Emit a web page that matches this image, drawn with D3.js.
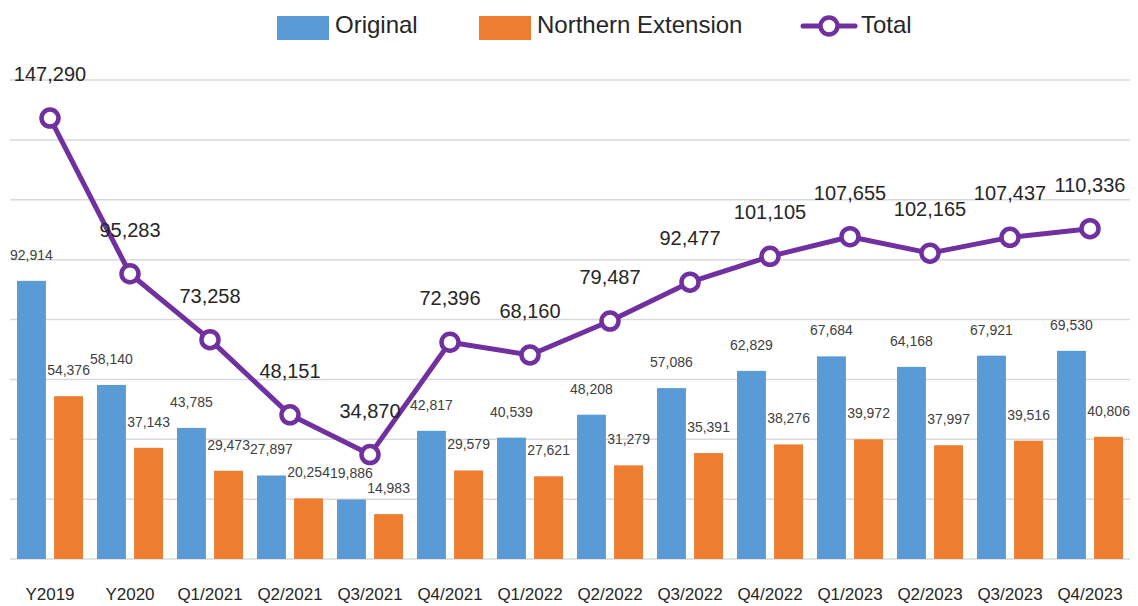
<!DOCTYPE html>
<html>
<head>
<meta charset="utf-8">
<script src="https://cdn.jsdelivr.net/npm/d3@7"></script>
<style>
  html, body { margin: 0; padding: 0; background: #fff; }
  svg { display: block; font-family: "Liberation Sans", Arial, sans-serif; }
</style>
</head>
<body>
<svg id="chart" width="1138" height="606"></svg>
<script>
const categories = ["Y2019","Y2020","Q1/2021","Q2/2021","Q3/2021","Q4/2021","Q1/2022","Q2/2022","Q3/2022","Q4/2022","Q1/2023","Q2/2023","Q3/2023","Q4/2023"];
const original = [92914,58140,43785,27897,19886,42817,40539,48208,57086,62829,67684,64168,67921,69530];
const northern = [54376,37143,29473,20254,14983,29579,27621,31279,35391,38276,39972,37997,39516,40806];
const total = [147290,95283,73258,48151,34870,72396,68160,79487,92477,101105,107655,102165,107437,110336];
const seriesNames = ["Original","Northern Extension","Total"];
const yTicks = [0,20000,40000,60000,80000,100000,120000,140000,160000];

const colors = {Original:"#5B9BD5", "Northern Extension":"#ED7D31", Total:"#7030A0"};
const svg = d3.select("#chart");
const fmt = d3.format(",");

const x0 = d3.scaleBand().domain(categories).range([10,1130]).padding(0);
const x1 = d3.scaleBand().domain(["Original","Northern Extension"]).range([7,73]).paddingInner(0.22);
const y = d3.scaleLinear().domain([0,160000]).range([559,80]);

// gridlines
svg.append("g").selectAll("line").data(yTicks).join("line")
  .attr("x1",10).attr("x2",1130)
  .attr("y1",d=>y(d)).attr("y2",d=>y(d))
  .attr("stroke","#D9D9D9").attr("stroke-width",1.5);

// x axis labels
const xAxis = d3.axisBottom(x0).tickSize(0).tickPadding(0);
const gx = svg.append("g").attr("transform","translate(0,588)").call(xAxis);
gx.select(".domain").remove();
gx.selectAll("text").attr("font-size",17).attr("fill","#262626")
  .attr("font-family","'Liberation Sans', Arial, sans-serif").attr("dy","0.71em");

// bars
const rows = categories.map((c,i)=>({cat:c, vals:[{k:"Original",v:original[i]},{k:"Northern Extension",v:northern[i]}]}));
const grp = svg.append("g").selectAll("g").data(rows).join("g")
  .attr("transform",d=>`translate(${x0(d.cat)},0)`);
grp.selectAll("rect").data(d=>d.vals).join("rect")
  .attr("x",d=>x1(d.k)).attr("width",x1.bandwidth())
  .attr("y",d=>y(d.v)).attr("height",d=>y(0)-y(d.v))
  .attr("fill",d=>colors[d.k]);
grp.selectAll("text").data(d=>d.vals).join("text")
  .attr("x",d=>x1(d.k)+x1.bandwidth()/2)
  .attr("y",d=>y(d.v)-26)
  .attr("dy","0.35em")
  .attr("text-anchor","middle")
  .attr("font-size",14).attr("fill","#404040")
  .text(d=>fmt(d.v));

// total line
const pts = categories.map((c,i)=>({cat:c, v:total[i]}));
const cx = d=>x0(d.cat)+x0.bandwidth()/2;
svg.append("path").datum(pts)
  .attr("d", d3.line().x(cx).y(d=>y(d.v)))
  .attr("fill","none").attr("stroke",colors.Total).attr("stroke-width",5)
  .attr("stroke-linejoin","round");
svg.append("g").selectAll("circle").data(pts).join("circle")
  .attr("cx",cx).attr("cy",d=>y(d.v)).attr("r",8.5)
  .attr("fill","#fff").attr("stroke",colors.Total).attr("stroke-width",4.5);
svg.append("g").selectAll("text").data(pts).join("text")
  .attr("x",cx).attr("y",d=>y(d.v)-44).attr("dy","0.35em")
  .attr("text-anchor","middle").attr("font-size",20).attr("fill","#262626")
  .text(d=>fmt(d.v));

// legend
const leg = svg.append("g");
leg.append("rect").attr("x",277).attr("y",16).attr("width",52).attr("height",24).attr("fill",colors.Original);
leg.append("text").attr("x",335).attr("y",25).attr("dy","0.35em").attr("font-size",24).attr("fill","#262626").text(seriesNames[0]);
leg.append("rect").attr("x",479).attr("y",16).attr("width",52).attr("height",24).attr("fill",colors["Northern Extension"]);
leg.append("text").attr("x",537).attr("y",25).attr("dy","0.35em").attr("font-size",24).attr("fill","#262626").text(seriesNames[1]);
leg.append("line").attr("x1",803).attr("x2",855).attr("y1",26).attr("y2",26)
  .attr("stroke",colors.Total).attr("stroke-width",5).attr("stroke-linecap","round");
leg.append("circle").attr("cx",829).attr("cy",26).attr("r",8.5)
  .attr("fill","#fff").attr("stroke",colors.Total).attr("stroke-width",4.5);
leg.append("text").attr("x",861).attr("y",25).attr("dy","0.35em").attr("font-size",24).attr("fill","#262626").text(seriesNames[2]);
</script>
</body>
</html>
